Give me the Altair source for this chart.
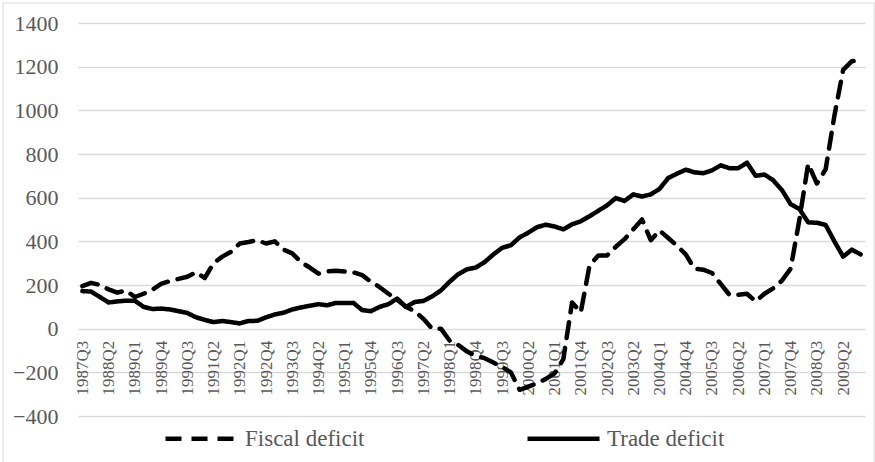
import altair as alt
import pandas as pd

# Quarterly categories 1987Q3 .. 2009Q4
quarters = [f"{y}Q{q}" for y in range(1987, 2010) for q in range(1, 5)][2:]
tick_labels = quarters[::3]
series_names = ["Fiscal deficit", "Trade deficit"]

fiscal = [
    195, 210, 200, 180, 165, 175, 145, 160, 178, 205, 218, 228, 238, 258, 232, 300,
    330, 352, 390, 397, 405, 390, 400, 362, 345, 305, 280, 252, 262, 265,
    262, 258, 245, 215, 190, 160, 132, 100, 80, 45, 0, 0, -55, -75, -105, -125,
    -135, -155, -175, -200, -280, -265, -250, -230, -205, -140, 120, 75, 290, 335,
    335, 375, 410, 455, 500, 405, 450, 415, 380, 340, 275, 270, 255, 205, 155,
    155, 160, 125, 160, 185, 220, 275, 500, 755, 665, 730, 975, 1185, 1225, 1230,
]

trade = [
    172, 170, 145, 120, 125, 128, 128, 100, 90, 92, 88, 80, 72, 52, 40, 30,
    35, 30, 24, 35, 36, 52, 65, 73, 88, 97, 105, 112, 107, 118,
    118, 118, 85, 80, 100, 112, 138, 100, 122, 127, 148, 175, 215, 250, 272, 280,
    305, 340, 370, 382, 418, 440, 465, 476, 468, 455, 478, 492, 515, 540,
    565, 598, 585, 615, 605, 615, 640, 690, 710, 728, 716, 712, 725, 748, 735,
    735, 760, 700, 706, 680, 635, 570, 548, 487, 485, 475, 400, 330, 362, 340,
]

y_ticks = [-400, -200, 0, 200, 400, 600, 800, 1000, 1200, 1400]

df = pd.DataFrame({
    "quarter": quarters + quarters,
    "value": fiscal + trade,
    "series": [series_names[0]] * len(fiscal) + [series_names[1]] * len(trade),
})

FONT = "Liberation Serif"
GREY = "#595959"
GRID = "#d9d9d9"

lines = alt.Chart(df).mark_line(
    color="black", strokeWidth=4.5, strokeCap="round", strokeJoin="round"
).encode(
    x=alt.X(
        "quarter:O",
        sort=quarters,
        scale=alt.Scale(type="point", padding=0.5),
        axis=alt.Axis(
            title=None, values=tick_labels, labelAngle=270, labelAlign="right",
            labelBaseline="middle", labelFont=FONT, labelFontSize=17,
            labelColor=GREY, ticks=False, tickSize=0, domain=False, grid=False,
            labelPadding=12, offset=-87.7, labelOverlap=False, labelFlush=False,
        ),
    ),
    y=alt.Y(
        "value:Q",
        scale=alt.Scale(domain=[-400, 1400], nice=False, zero=False),
        axis=alt.Axis(
            title=None, values=y_ticks, format="d", labelFont=FONT, labelFontSize=22,
            labelColor=GREY, ticks=False, tickSize=0, domain=False,
            gridColor=GRID, gridWidth=1.3, labelPadding=20,
        ),
    ),
    strokeDash=alt.StrokeDash(
        "series:N",
        scale=alt.Scale(domain=series_names, range=[[16, 10], [1, 0]]),
        legend=alt.Legend(
            title=None, orient="none", legendX=85, legendY=377,
            direction="horizontal", columnPadding=153,
            symbolType="stroke", symbolSize=5184, symbolStrokeWidth=4.5,
            symbolStrokeColor="black", labelFont=FONT, labelFontSize=23,
            labelColor=GREY, labelOffset=5,
        ),
    ),
    detail="series:N",
)

frame = alt.Chart(pd.DataFrame({"k": [0]})).mark_rect(
    filled=False, stroke=GRID, strokeWidth=1
).encode(
    x=alt.value(-75), x2=alt.value(796), y=alt.value(-20), y2=alt.value(480)
)

chart = alt.layer(frame, lines).properties(
    width=787, height=393,
    padding={"left": 78, "top": 23, "right": 10, "bottom": 46},
    autosize=alt.AutoSizeParams(type="none"),
    background="white",
).configure_view(stroke=None)

chart.save("out.html", embed_options={"renderer": "svg", "actions": False})
